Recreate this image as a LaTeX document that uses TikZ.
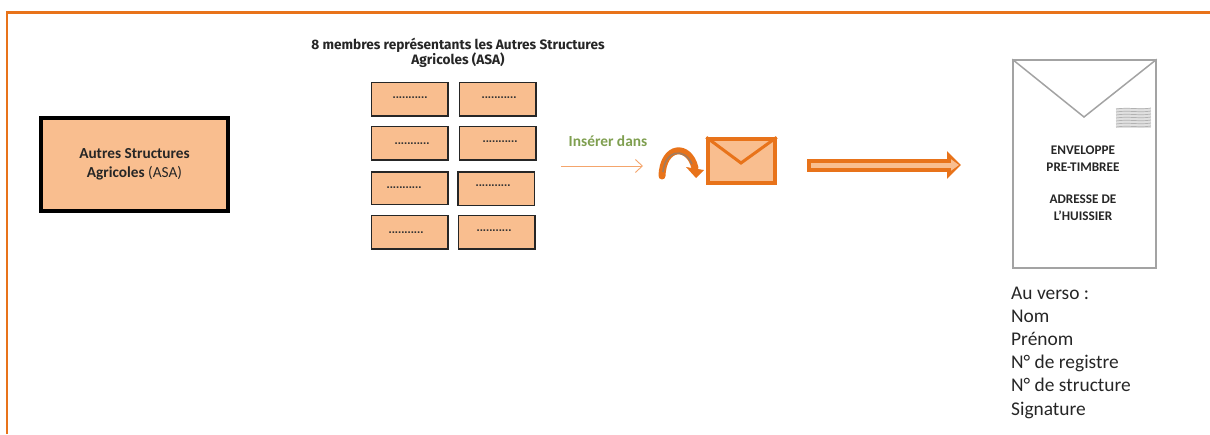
\documentclass[tikz,border=0pt]{standalone}
\usepackage{xcolor}
\usepackage{fontspec}
\setmainfont{Carlito}
\newfontfamily\titlefont{Fira Sans}
\newfontfamily\dotsfont{Liberation Sans}
\usetikzlibrary{arrows.meta}
\definecolor{frameorange}{HTML}{E8731A}
\definecolor{lightorange}{HTML}{F9BE8F}
\definecolor{thinorange}{HTML}{F4A56C}
\definecolor{insertgreen}{HTML}{7F9F50}
\definecolor{envgray}{HTML}{A3A3A3}
\tikzset{
  member/.style={draw=black!85, line width=1.5pt, fill=lightorange, minimum width=76.5pt, minimum height=33.5pt, inner sep=0pt},
  dotted text/.style={font=\dotsfont\bfseries\fontsize{11.4}{11}\selectfont, text=black!80, inner sep=0pt},
  title text/.style={font=\titlefont\bfseries\fontsize{13.65}{15}\selectfont, align=center, text=black!85, inner sep=0pt},
  envelope text/.style={font=\bfseries\fontsize{13.2}{17}\selectfont, align=center, text=black!85, inner sep=0pt},
  verso text/.style={font=\fontsize{19.4}{23.2}\selectfont, align=left, text=black!85, inner sep=0pt},
}

\begin{document}
\begin{tikzpicture}[x=1pt, y=-1pt]
  \useasboundingbox (0,0) rectangle (1210,434);

  % Frame
  \draw[frameorange, line width=2.1pt] (7,434) -- (7,12.5) -- (1210,12.5);

  % Structure
  \node[draw=black, line width=3.8pt, fill=lightorange, minimum width=187.5pt, minimum height=93pt, align=center, inner sep=0pt,
    font=\fontsize{15.3}{19}\selectfont, text=black!85] (asa) at (134.5,164.5)
    {\textbf{Autres Structures}\\\textbf{Agricoles} (ASA)};

  % Members
  \node[title text] (members) at (458,53) {8 membres repr\'esentants les Autres Structures\\Agricoles (ASA)};

  \node[member] (m1) at (409.5,99) {};
  \node[member] (m2) at (497.5,99) {};
  \node[member] (m3) at (409.5,143) {};
  \node[member] (m4) at (497.5,143) {};
  \node[member, minimum height=32.5pt] (m5) at (409.5,188) {};
  \node[member] (m6) at (496,188.5) {};
  \node[member] (m7) at (409.5,232) {};
  \node[member] (m8) at (496.5,232) {};

  \node[dotted text] (d1) at (410,98) {...........};
  \node[dotted text] (d2) at (499,98) {...........};
  \node[dotted text] (d3) at (412,144) {...........};
  \node[dotted text] (d4) at (500,142) {...........};
  \node[dotted text] (d5) at (404,188) {...........};
  \node[dotted text] (d6) at (493,186) {...........};
  \node[dotted text] (d7) at (406,233) {...........};
  \node[dotted text] (d8) at (494,231) {...........};

  % Insert
  \node[font=\bfseries\fontsize{15.4}{15}\selectfont, text=insertgreen, inner sep=0pt] (insert) at (608,141) {Ins\'erer dans};
  \coordinate (insertfrom) at (561,166);
  \coordinate (insertto) at (643,166);
  \draw[thinorange, line width=0.9pt, -{Straight Barb[length=7pt, width=13pt]}] (insertfrom) -- (insertto);

  % Mail
  \node[draw=frameorange, line width=3.4pt, fill=lightorange, minimum width=67pt, minimum height=44pt, inner sep=0pt] (mail) at (741.5,161) {};
  \draw[frameorange, line width=3pt] (mail.north west) -- (741,163) -- (mail.north east);

  \draw[frameorange, line width=7pt, line cap=round] (662,176) .. controls (663,145) and (689,143) .. (695,168);
  \fill[frameorange] (686,167) -- (704,170) -- (696,178) -- cycle;
  \draw[black!35!lightorange, line width=1.6pt] (663,172) .. controls (665,150) and (684,147) .. (692,164);

  % Send
  \coordinate (sendfrom) at (807,165);
  \coordinate (sendto) at (961,165);
  \draw[frameorange, line width=13pt, -{Triangle[length=14pt, width=27pt]}] (sendfrom) -- (sendto);
  \draw[lightorange, line width=5pt, shorten <=4pt, shorten >=2pt, -{Triangle[length=8pt, width=11pt]}] (sendfrom) -- (sendto);

  % Envelope
  \node[draw=envgray, line width=1.5pt, minimum width=143pt, minimum height=208pt, inner sep=0pt] (envelope) at (1084.5,164) {};
  \draw[envgray, line width=1.5pt] (envelope.north west) -- (1084,117) -- (envelope.north east);

  % Stamp
  \fill[black!12] (1116,108) rectangle (1151,128);
  \draw[black!30, line width=0.7pt] (1116,109) .. controls (1128,107) and (1140,110) .. (1151,108);
  \draw[black!30, line width=0.7pt] (1116,112) .. controls (1128,110) and (1140,113) .. (1151,111);
  \draw[black!30, line width=0.7pt] (1116,115) .. controls (1128,113) and (1140,116) .. (1151,114);
  \draw[black!30, line width=0.7pt] (1116,118) .. controls (1128,116) and (1140,119) .. (1151,117);
  \draw[black!30, line width=0.7pt] (1116,121) .. controls (1128,119) and (1140,122) .. (1151,120);
  \draw[black!30, line width=0.7pt] (1116,124) .. controls (1128,122) and (1140,125) .. (1151,123);
  \draw[black!30, line width=0.7pt] (1116,127) .. controls (1128,125) and (1140,128) .. (1151,126);

  \node[envelope text] (pretimbree) at (1083,158.5) {ENVELOPPE\\PRE-TIMBREE};
  \node[envelope text] (huissier) at (1083,207.5) {ADRESSE DE\\L'HUISSIER};

  % Back
  \node[verso text, anchor=north west] (verso) at (1011,286.5)
    {Au verso :\\Nom\\Pr\'enom\\N\textdegree{} de registre\\N\textdegree{} de structure\\Signature};
\end{tikzpicture}
\end{document}
